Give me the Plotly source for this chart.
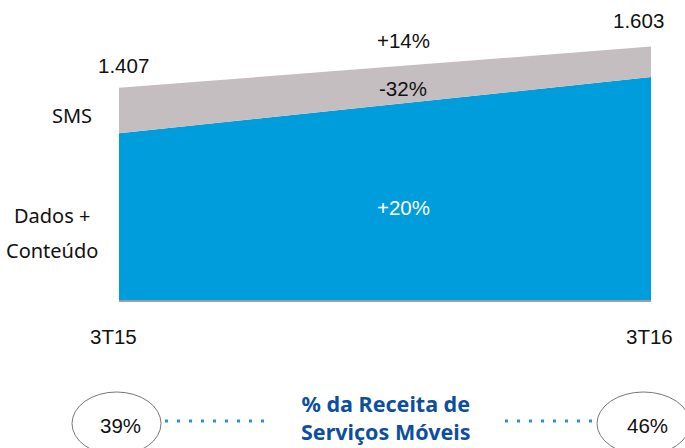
import plotly.graph_objects as go

periods = ["3T15", "3T16"]
dados_conteudo = [1.192, 1.458]
sms = [0.215, 0.145]
totals = ["1.407", "1.603"]
growth_total = "+14%"
growth_sms = "-32%"
growth_dados = "+20%"
share_labels = ["39%", "46%"]

W, H = 685, 448
L, R, T, B = 119, 34, 20, 148
PW, PH = W - L - R, H - T - B


def px(x):
    return (x - L) / PW


def py(y):
    return (H - B - y) / PH


BLUE = "#009ddc"
GREY = "#c5bec1"
NAVY = "#0d4f9f"
DOT = "#2b8def"
NUM_FONT = "Liberation Sans, Arial, sans-serif"
TXT_FONT = "Noto Sans, sans-serif"

xs = [0, 1]
fig = go.Figure()
fig.add_trace(go.Scatter(x=xs, y=dados_conteudo, stackgroup="a", mode="none",
                         fillcolor=BLUE, name="Dados + Conteúdo"))
fig.add_trace(go.Scatter(x=xs, y=sms, stackgroup="a", mode="none",
                         fillcolor=GREY, name="SMS"))

ann = []


def text(x, y, s, size=20.5, color="#111111", family=NUM_FONT, xanchor="center", bold=False):
    if bold:
        s = "<b>" + s + "</b>"
    ann.append(dict(x=px(x), y=py(y), xref="paper", yref="paper", text=s, showarrow=False,
                    xanchor=xanchor, yanchor="middle",
                    font=dict(size=size, color=color, family=family)))


text(123, 65, totals[0])
text(638, 20, totals[1])
text(403, 41, growth_total)
text(403, 88, growth_sms)
text(403, 207, growth_dados, color="white")
text(94, 115, "SMS", size=20, family=TXT_FONT, xanchor="right")
text(52, 215, "Dados +", size=20, family=TXT_FONT)
text(52, 250, "Conteúdo", size=20, family=TXT_FONT)
text(113, 336, periods[0])
text(649, 336, periods[1])
text(120, 425, share_labels[0])
text(647, 425, share_labels[1])
text(386, 417, "% da Receita de<br>Serviços Móveis", size=21.5, color=NAVY,
     family=TXT_FONT, bold=True)

shapes = [
    dict(type="circle", xref="paper", yref="paper", x0=px(72), x1=px(161), y0=py(392), y1=py(455),
         line=dict(color="#777777", width=1)),
    dict(type="circle", xref="paper", yref="paper", x0=px(597), x1=px(690), y0=py(392), y1=py(455),
         line=dict(color="#777777", width=1)),
    dict(type="line", xref="paper", yref="paper", x0=px(165), x1=px(264), y0=py(421), y1=py(421),
         line=dict(color=DOT, width=3, dash="3px,9px")),
    dict(type="line", xref="paper", yref="paper", x0=px(505), x1=px(596), y0=py(421), y1=py(421),
         line=dict(color=DOT, width=3, dash="3px,9px")),
]

fig.update_layout(
    width=W, height=H,
    margin=dict(l=L, r=R, t=T, b=B),
    paper_bgcolor="white", plot_bgcolor="white",
    showlegend=False,
    annotations=ann,
    shapes=shapes,
    xaxis=dict(range=[0, 1], showgrid=False, zeroline=False, showticklabels=False,
               ticks="", showline=True, linecolor="#9e9e9e", linewidth=2, fixedrange=True),
    yaxis=dict(range=[0.4, 0.4 + PH / 210.7], showgrid=False, zeroline=False,
               showticklabels=False, ticks="", fixedrange=True),
)

fig.write_html("out.html", config={"displayModeBar": False},
               post_script="document.body.style.margin='0px';")
